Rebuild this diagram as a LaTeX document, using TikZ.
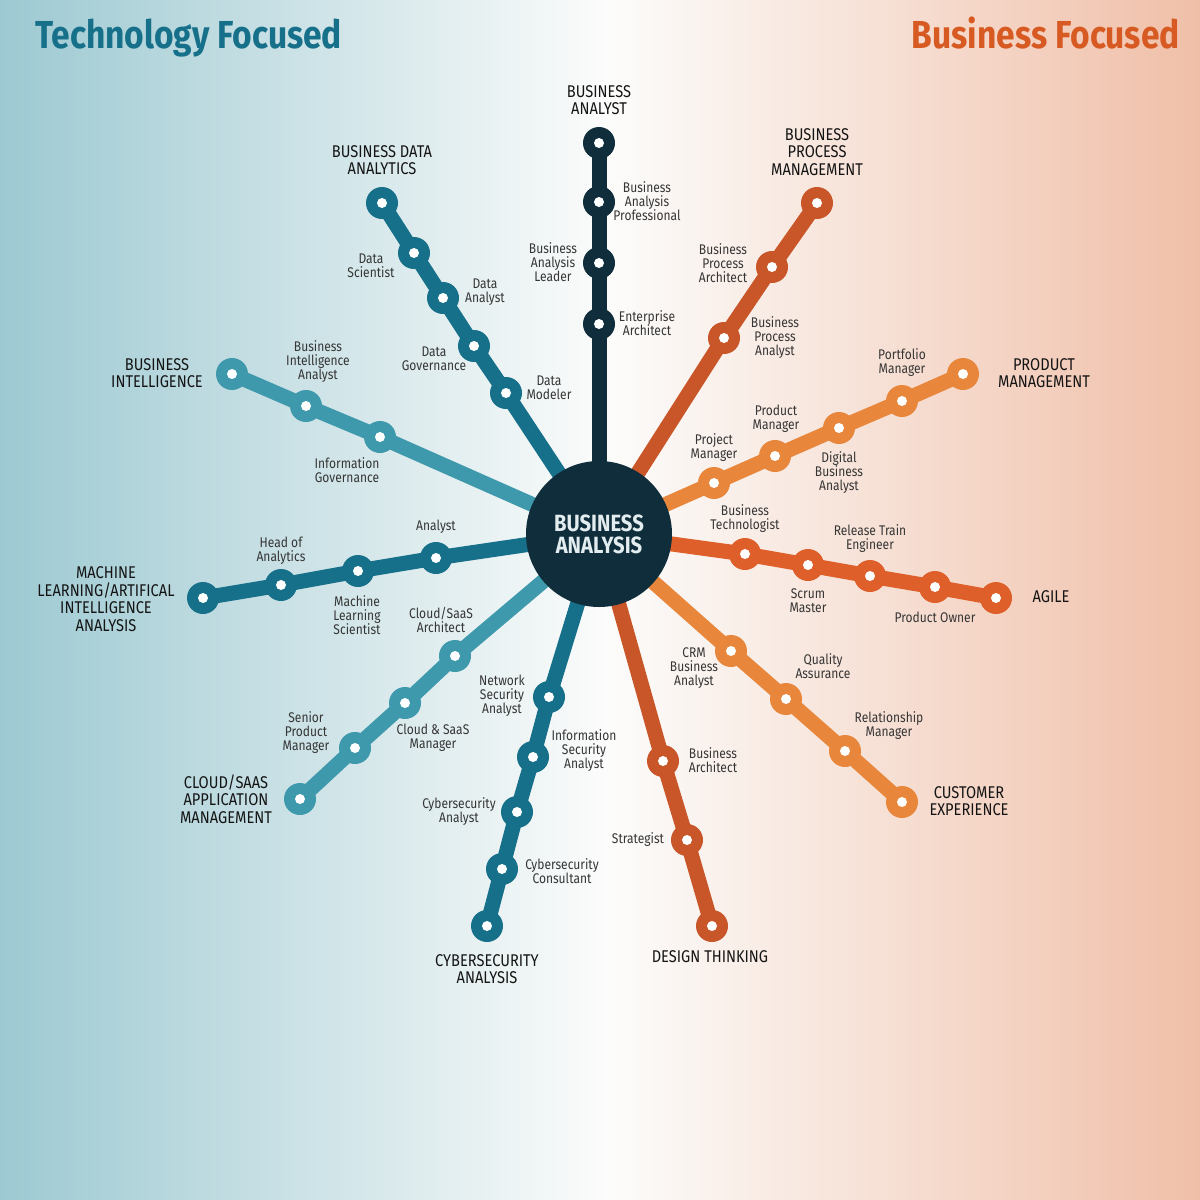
\documentclass[tikz,border=0pt]{standalone}
\usepackage{fontspec}
\setmainfont{Fira Sans}
\newfontfamily\labfont[FakeStretch=0.86]{Fira Sans}
\newfontfamily\ttlfont[FakeStretch=0.86]{Fira Sans}
\definecolor{navy}{HTML}{0F2D3A}
\definecolor{tdark}{HTML}{16708A}
\definecolor{tlight}{HTML}{3F99AD}
\definecolor{ored}{HTML}{C95628}
\definecolor{oagile}{HTML}{DE5F2A}
\definecolor{olight}{HTML}{E8873C}
\definecolor{labgray}{HTML}{363636}
\definecolor{catblack}{HTML}{141414}
\definecolor{ttlteal}{HTML}{17708A}
\definecolor{ttlorange}{HTML}{D65A22}
\definecolor{bgL}{HTML}{9DC9D2}
\definecolor{bgM}{HTML}{FCFCFB}
\definecolor{bgR}{HTML}{F0BFA8}
\definecolor{hubtext}{HTML}{E3ECEF}
\pgfdeclarelayer{bg}
\pgfdeclarelayer{lines}
\pgfsetlayers{bg,lines,main}
\begin{document}
\begin{tikzpicture}[x=1pt,y=-1pt,
  stop/.style={circle, fill=#1, minimum size=32pt, inner sep=0pt,
    path picture={\fill[white] (path picture bounding box.center) circle[radius=5pt];}},
  route/.style={line width=15pt, draw=#1, line join=round},
  lab/.style={align=center, font=\labfont\fontsize{14}{14}\selectfont, text=labgray, inner sep=0pt},
  cat/.style={align=center, font=\labfont\fontsize{17}{17.5}\selectfont, text=catblack, inner sep=0pt},
  hubstyle/.style={circle, fill=navy, minimum size=146pt, inner sep=0pt, align=center,
    text=hubtext, font=\labfont\bfseries\fontsize{23.5}{22}\selectfont},
  ttl/.style={inner sep=0pt, font=\ttlfont\bfseries\fontsize{39}{39}\selectfont}
]
\useasboundingbox (0,0) rectangle (1200,1200);
\begin{pgfonlayer}{bg}
\shade[left color=bgL, right color=bgM] (0,0) rectangle (610,1200);
\shade[left color=bgM, right color=bgR] (610,0) rectangle (1200,1200);
\end{pgfonlayer}

% titles
\node[ttl, text=ttlteal, anchor=base west] (ttech) at (35,48) {Technology Focused};
\node[ttl, text=ttlorange, anchor=base east] (tbus) at (1180,48) {Business Focused};

% hub
\node[hubstyle] (hub) at (599,534) {BUSINESS\\ANALYSIS};

% Business Analyst
\node[stop=navy] (ba1) at (599,143) {};
\node[stop=navy] (ba2) at (599,202) {};
\node[stop=navy] (ba3) at (599,263) {};
\node[stop=navy] (ba4) at (599,324) {};
% Business Data Analytics
\node[stop=tdark] (bd1) at (382,203) {};
\node[stop=tdark] (bd2) at (414,253) {};
\node[stop=tdark] (bd3) at (443,298) {};
\node[stop=tdark] (bd4) at (474,346) {};
\node[stop=tdark] (bd5) at (506,393) {};
% Business Process Management
\node[stop=ored] (bp1) at (817,203) {};
\node[stop=ored] (bp2) at (772,267) {};
\node[stop=ored] (bp3) at (724,338) {};
% Product Management
\node[stop=olight] (pm1) at (963,374) {};
\node[stop=olight] (pm2) at (902,401) {};
\node[stop=olight] (pm3) at (839,428) {};
\node[stop=olight] (pm4) at (775,456) {};
\node[stop=olight] (pm5) at (714,483) {};
% Agile
\node[stop=oagile] (ag1) at (996,598) {};
\node[stop=oagile] (ag2) at (935,587) {};
\node[stop=oagile] (ag3) at (870,576) {};
\node[stop=oagile] (ag4) at (808,565) {};
\node[stop=oagile] (ag5) at (745,554) {};
% Customer Experience
\node[stop=olight] (cx1) at (902,802) {};
\node[stop=olight] (cx2) at (845,751) {};
\node[stop=olight] (cx3) at (786,699) {};
\node[stop=olight] (cx4) at (731,651) {};
% Design Thinking
\node[stop=ored] (dt1) at (712,926) {};
\node[stop=ored] (dt2) at (687,840) {};
\node[stop=ored] (dt3) at (663,761) {};
% Cybersecurity
\node[stop=tdark] (cy1) at (487,926) {};
\node[stop=tdark] (cy2) at (502,869) {};
\node[stop=tdark] (cy3) at (517,812) {};
\node[stop=tdark] (cy4) at (533,757) {};
\node[stop=tdark] (cy5) at (549,697) {};
% Cloud/SaaS
\node[stop=tlight] (cl1) at (300,799) {};
\node[stop=tlight] (cl2) at (355,748) {};
\node[stop=tlight] (cl3) at (405,703) {};
\node[stop=tlight] (cl4) at (455,656) {};
% ML / AI
\node[stop=tdark] (ml1) at (203,598) {};
\node[stop=tdark] (ml2) at (281,585) {};
\node[stop=tdark] (ml3) at (358,571) {};
\node[stop=tdark] (ml4) at (436,558) {};
% Business Intelligence
\node[stop=tlight] (bi1) at (232,374) {};
\node[stop=tlight] (bi2) at (306,406) {};
\node[stop=tlight] (bi3) at (380,437) {};

\begin{pgfonlayer}{lines}
\draw[route=navy] (hub.center) -- (ba4.center) -- (ba3.center) -- (ba2.center) -- (ba1.center);
\draw[route=tdark] (hub.center) -- (bd5.center) -- (bd4.center) -- (bd3.center) -- (bd2.center) -- (bd1.center);
\draw[route=ored] (hub.center) -- (bp3.center) -- (bp2.center) -- (bp1.center);
\draw[route=olight] (hub.center) -- (pm5.center) -- (pm4.center) -- (pm3.center) -- (pm2.center) -- (pm1.center);
\draw[route=oagile] (hub.center) -- (ag5.center) -- (ag4.center) -- (ag3.center) -- (ag2.center) -- (ag1.center);
\draw[route=olight] (hub.center) -- (cx4.center) -- (cx3.center) -- (cx2.center) -- (cx1.center);
\draw[route=ored] (hub.center) -- (dt3.center) -- (dt2.center) -- (dt1.center);
\draw[route=tdark] (hub.center) -- (cy5.center) -- (cy4.center) -- (cy3.center) -- (cy2.center) -- (cy1.center);
\draw[route=tlight] (hub.center) -- (cl4.center) -- (cl3.center) -- (cl2.center) -- (cl1.center);
\draw[route=tdark] (hub.center) -- (ml4.center) -- (ml3.center) -- (ml2.center) -- (ml1.center);
\draw[route=tlight] (hub.center) -- (bi3.center) -- (bi2.center) -- (bi1.center);
\end{pgfonlayer}

% category labels
\node[cat] (cba) at (599,100) {BUSINESS\\ANALYST};
\node[cat] (cbd) at (382,160) {BUSINESS DATA\\ANALYTICS};
\node[cat] (cbp) at (817,152) {BUSINESS\\PROCESS\\MANAGEMENT};
\node[cat] (cpm) at (1044,373) {PRODUCT\\MANAGEMENT};
\node[cat] (cag) at (1051,597) {AGILE};
\node[cat] (ccx) at (969,801) {CUSTOMER\\EXPERIENCE};
\node[cat] (cdt) at (710,957) {DESIGN THINKING};
\node[cat] (ccy) at (487,969) {CYBERSECURITY\\ANALYSIS};
\node[cat] (ccl) at (226,799) {CLOUD/SAAS\\APPLICATION\\MANAGEMENT};
\node[cat] (cml) at (106,599) {MACHINE\\LEARNING/ARTIFICAL\\INTELLIGENCE\\ANALYSIS};
\node[cat] (cbi) at (157,373) {BUSINESS\\INTELLIGENCE};

% role labels
\node[lab] (l1) at (647,201) {Business\\Analysis\\Professional};
\node[lab] (l2) at (553,262) {Business\\Analysis\\Leader};
\node[lab] (l3) at (647,323) {Enterprise\\Architect};
\node[lab] (l4) at (371,266) {Data\\Scientist};
\node[lab] (l5) at (485,292) {Data\\Analyst};
\node[lab] (l6) at (434,359) {Data\\Governance};
\node[lab] (l7) at (549,388) {Data\\Modeler};
\node[lab] (l8) at (723,263) {Business\\Process\\Architect};
\node[lab] (l9) at (775,338) {Business\\Process\\Analyst};
\node[lab] (l10) at (902,363) {Portfolio\\Manager};
\node[lab] (l11) at (776,419) {Product\\Manager};
\node[lab] (l12) at (714,448) {Project\\Manager};
\node[lab] (l13) at (839,473) {Digital\\Business\\Analyst};
\node[lab] (l14) at (745,519) {Business\\Technologist};
\node[lab] (l15) at (870,539) {Release Train\\Engineer};
\node[lab] (l16) at (808,601) {Scrum\\Master};
\node[lab] (l17) at (935,617) {Product Owner};
\node[lab] (l18) at (694,668) {CRM\\Business\\Analyst};
\node[lab] (l19) at (823,666) {Quality\\Assurance};
\node[lab] (l20) at (889,726) {Relationship\\Manager};
\node[lab] (l21) at (713,760) {Business\\Architect};
\node[lab] (l22) at (638,840) {Strategist};
\node[lab] (l23) at (502,696) {Network\\Security\\Analyst};
\node[lab] (l24) at (584,751) {Information\\Security\\Analyst};
\node[lab] (l25) at (459,812) {Cybersecurity\\Analyst};
\node[lab] (l26) at (562,871) {Cybersecurity\\Consultant};
\node[lab] (l27) at (441,620) {Cloud/SaaS\\Architect};
\node[lab] (l28) at (433,738) {Cloud \& SaaS\\Manager};
\node[lab] (l29) at (306,733) {Senior\\Product\\Manager};
\node[lab] (l30) at (436,527) {Analyst};
\node[lab] (l31) at (281,551) {Head of\\Analytics};
\node[lab] (l32) at (357,615) {Machine\\Learning\\Scientist};
\node[lab] (l33) at (318,362) {Business\\Intelligence\\Analyst};
\node[lab] (l34) at (347,470) {Information\\Governance};
\end{tikzpicture}
\end{document}
